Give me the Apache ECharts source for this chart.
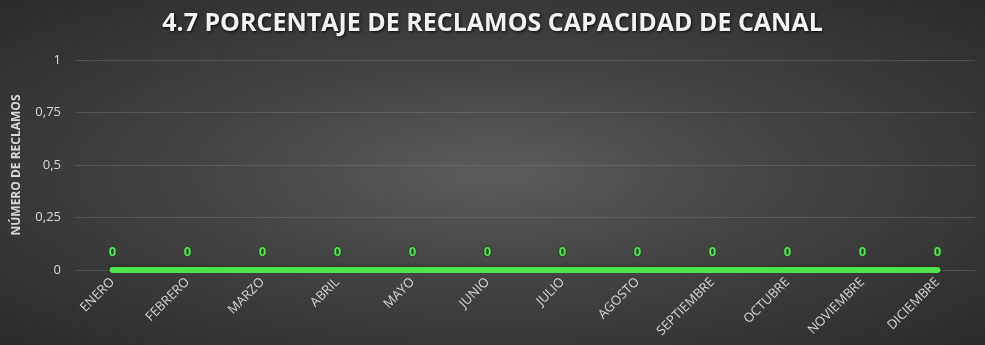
<!DOCTYPE html>
<html><head><meta charset="utf-8">
<script src="https://cdn.jsdelivr.net/npm/echarts@6/dist/echarts.min.js"></script>
<style>html,body{margin:0;padding:0;}#c{width:985px;height:345px;background:radial-gradient(ellipse farthest-corner at 50% 50%, #5c5c5c 0%, #454545 40%, #2a2a2a 100%);}</style>
</head><body><div id="c"></div>
<script>
const categories = ['ENERO','FEBRERO','MARZO','ABRIL','MAYO','JUNIO','JULIO','AGOSTO','SEPTIEMBRE','OCTUBRE','NOVIEMBRE','DICIEMBRE'];
const values = [0,0,0,0,0,0,0,0,0,0,0,0];
const yTicks = [0, 0.25, 0.5, 0.75, 1];
const titleText = '4.7 PORCENTAJE DE RECLAMOS CAPACIDAD DE CANAL';
const yName = 'NÚMERO DE RECLAMOS';

const chart = echarts.init(document.getElementById('c'));
chart.setOption({
  backgroundColor: 'transparent',
  title: {
    text: titleText, left: 'center', top: 6,
    textStyle: {color: '#f2f2f2', fontSize: 25, fontWeight: 'bold', fontFamily: 'Open Sans',
      textShadowColor: 'rgba(0,0,0,0.85)', textShadowBlur: 3, textShadowOffsetX: 1, textShadowOffsetY: 1}
  },
  grid: {left: 75, right: 10, top: 60, bottom: 75},
  xAxis: {
    type: 'category', data: categories, boundaryGap: true,
    axisLine: {show: false}, axisTick: {show: false},
    axisLabel: {rotate: 45, color: '#d9d9d9', fontSize: 13, fontFamily: 'Open Sans', margin: 10, interval: 0}
  },
  yAxis: {
    type: 'value', min: 0, max: 1, interval: 0.25,
    name: yName, nameLocation: 'middle', nameGap: 52,
    nameTextStyle: {color: '#d9d9d9', fontSize: 12, fontWeight: 'bold', fontFamily: 'Open Sans'},
    axisLine: {show: false}, axisTick: {show: false},
    axisLabel: {color: '#d9d9d9', fontSize: 13, fontFamily: 'Open Sans', margin: 14,
      formatter: v => yTicks.includes(v) ? String(v).replace('.', ',') : ''},
    splitLine: {lineStyle: {color: 'rgba(120,120,120,0.45)', width: 1}}
  },
  series: [{
    type: 'line', data: values, symbol: 'circle', symbolSize: 1, showSymbol: true,
    itemStyle: {color: 'rgba(0,0,0,0)'},
    lineStyle: {color: '#4ee44e', width: 6, cap: 'round', shadowColor: 'rgba(0,0,0,0.7)', shadowBlur: 4, shadowOffsetY: 1},
    label: {show: true, position: 'top', distance: 11, color: '#5de05d', fontSize: 13, fontWeight: 'bold',
      fontFamily: 'Open Sans', textBorderColor: '#1e4a1e', textBorderWidth: 2}
  }]
});
</script></body></html>
